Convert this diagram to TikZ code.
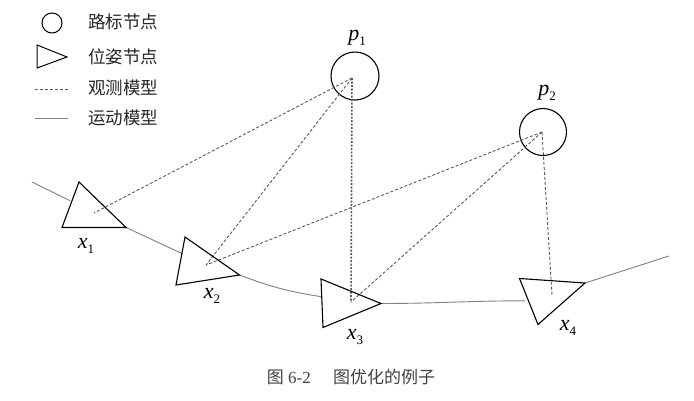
\documentclass[tikz,border=0pt]{standalone}
\usepackage{fontspec}
\setmainfont{Liberation Serif}
\newfontfamily\cjk{Noto Sans CJK SC}
\newcommand{\vlab}[2]{\textit{#1}\raisebox{-4.5pt}{\fontsize{13}{13}\selectfont #2}}
\begin{document}
\begin{tikzpicture}[x=1pt,y=-1pt,
  outl/.style={draw=black,line width=1.1pt,line join=miter},
  obs/.style={draw=black!65,line width=0.9pt,dash pattern=on 3pt off 2pt},
  mot/.style={draw=black!50,line width=0.9pt},
  lbl/.style={font=\fontsize{22}{22}\selectfont,inner sep=0pt},
  leg/.style={font=\cjk\fontsize{17.5}{17.5}\selectfont,anchor=west,inner sep=0pt,text=black!85}]
\path[use as bounding box] (0,0) rectangle (694,400);
% legend
\node[circle,draw,line width=1pt,minimum size=20pt,inner sep=0pt] (lc) at (52,23) {};
\node[leg] (lt1) at (88,22) {路标节点};
\coordinate (la) at (37,45); \coordinate (lb) at (37,68); \coordinate (lcc) at (67,57);
\draw[outl,line width=1pt] (la) -- (lb) -- (lcc) -- cycle;
\node[leg] (lt2) at (88,57) {位姿节点};
\coordinate (ld1) at (35,89); \coordinate (ld2) at (68,89);
\draw[obs] (ld1) -- (ld2);
\node[leg] (lt3) at (88,88) {观测模型};
\coordinate (lm1) at (35,118); \coordinate (lm2) at (68,118);
\draw[mot] (lm1) -- (lm2);
\node[leg] (lt4) at (88,118) {运动模型};
% landmarks
\node[circle,outl,minimum size=48pt,inner sep=0pt] (P1) at (355,76) {};
\node[lbl] (P1l) at (357,38) {\vlab{p}{1}};
\coordinate (p1) at (352,78);
\node[circle,outl,minimum size=47pt,inner sep=0pt] (P2) at (543,132) {};
\node[lbl] (P2l) at (547,93) {\vlab{p}{2}};
\coordinate (p2) at (542,132);
% poses
\coordinate (x1a) at (79,182); \coordinate (x1b) at (62,227.5); \coordinate (x1c) at (126,227.5);
\coordinate (x1) at (94,213);
\coordinate (x2a) at (185,237); \coordinate (x2b) at (176,285); \coordinate (x2c) at (239.5,275);
\coordinate (x2) at (206,265);
\coordinate (x3a) at (321,279); \coordinate (x3b) at (323,327.5); \coordinate (x3c) at (381,303.5);
\coordinate (x3) at (351,302);
\coordinate (x4a) at (519.5,278.5); \coordinate (x4b) at (585,283); \coordinate (x4c) at (538,324.5);
\coordinate (x4) at (552,295);
% observation edges
\draw[obs] (p1) -- (x1);
\draw[obs] (p1) -- (x2);
\draw[obs,line width=1.6pt,dash pattern=on 2pt off 1.5pt] (p1) -- (x3);
\draw[obs] (p2) -- (x2);
\draw[obs] (p2) -- (x3);
\draw[obs] (p2) -- (x4);
% motion edges
\coordinate (m0) at (32,182); \coordinate (m1) at (70,200.7);
\coordinate (m2) at (183,254); \coordinate (m3) at (322,296.8);
\coordinate (m4) at (525,300.8); \coordinate (m5) at (669,256);
\draw[mot] (m0) -- (m1);
\draw[mot] (x1c) -- (m2);
\draw[mot] (x2c) to[bend right=6] (m3);
\draw[mot] (x3c) to[out=0,in=180] (m4);
\draw[mot] (x4b) -- (m5);
% triangles
\draw[outl] (x1a) -- (x1b) -- (x1c) -- cycle;
\draw[outl] (x2a) -- (x2b) -- (x2c) -- cycle;
\draw[outl] (x3a) -- (x3b) -- (x3c) -- cycle;
\draw[outl] (x4a) -- (x4b) -- (x4c) -- cycle;
% labels
\node[lbl] (x1l) at (86,246) {\vlab{x}{1}};
\node[lbl] (x2l) at (212,296) {\vlab{x}{2}};
\node[lbl] (x3l) at (355,337) {\vlab{x}{3}};
\node[lbl] (x4l) at (568,328) {\vlab{x}{4}};
% caption
\node[font=\fontsize{17}{17}\selectfont,text=black!75,inner sep=0pt] (cap) at (351,377) {{\cjk 图} 6-2\hspace{1.3em}{\cjk 图优化的例子}};
\end{tikzpicture}
\end{document}
